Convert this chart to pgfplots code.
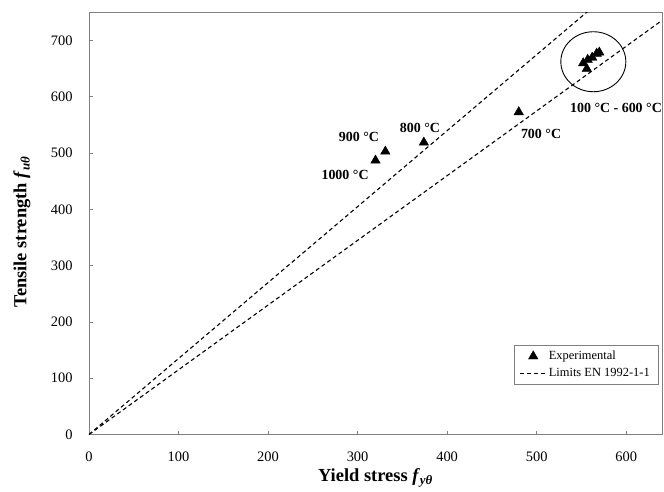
\documentclass[border=0pt]{standalone}
\usepackage{fontspec}
\setmainfont{Liberation Serif}
\usepackage{pgfplots}
\pgfplotsset{compat=1.18}
\begin{document}
\begin{tikzpicture}
\begin{axis}[
  scale only axis, width=573bp, height=422bp,
  xmin=0, xmax=640, ymin=0, ymax=750,
  xtick={0,100,...,600}, ytick={0,100,...,700},
  axis line style={draw=black!50, line width=0.8bp},
  tick align=inside, xtick pos=bottom, ytick pos=left,
  major tick length=4bp,
  tick style={black!50, line width=0.8bp},
  /pgf/number format/assume math mode=true,
  ticklabel style={font=\fontsize{14.5}{17}\selectfont},
  xticklabel style={yshift=-14bp},
  yticklabel style={xshift=-13bp},
  xlabel={\textbf{Yield stress \textit{f}\textsubscript{\textit{yθ}}}},
  ylabel={\textbf{Tensile strength \textit{f}\textsubscript{\textit{uθ}}}},
  label style={font=\fontsize{18.5}{22}\selectfont},
  xlabel style={at={(axis description cs:0.5,-0.102)}, anchor=center},
  ylabel style={at={(axis description cs:-0.117,0.48)}, anchor=center},
  legend style={at={(0.993,0.212)}, anchor=north east, draw=black!50,
    font=\fontsize{12.5}{15}\selectfont, row sep=3bp, inner xsep=6bp, inner ysep=4bp},
  legend cell align=left,
  clip=true,
]
\addplot[only marks, mark=triangle*, mark size=5.5bp, black,
  legend image code/.code={\draw[mark repeat=2,mark phase=2] plot coordinates {(0bp,0bp) (13bp,0bp) (26bp,0bp)};}]
  coordinates {
  (320,487) (331,503) (374,519) (480,573)
  (552,660) (556,650) (557,666) (562,670) (567,677) (570,679)
};
\addlegendentry{Experimental}
\addplot[black, line width=1.1bp, dash pattern=on 4bp off 3bp,
  legend image code/.code={\draw[black, line width=1.1bp, dash pattern=on 4bp off 3bp] (0bp,0bp) -- (26bp,0bp);}]
  coordinates {(0,0) (640,864)};
\addlegendentry{Limits EN 1992-1-1}
\addplot[black, line width=1.1bp, dash pattern=on 4bp off 3bp, forget plot] coordinates {(0,0) (640,736)};
\draw[black, line width=0.9bp] (axis cs:563.3,662.5) ellipse [x radius=32.5bp, y radius=30bp];
\begin{scope}[font=\bfseries\fontsize{14}{16}\selectfont]
\node at (axis cs:286,461) {1000 °C};
\node at (axis cs:301.6,529) {900 °C};
\node at (axis cs:369.7,544.5) {800 °C};
\node at (axis cs:504.9,533.7) {700 °C};
\node at (axis cs:588.6,580) {100 °C - 600 °C};
\end{scope}
\end{axis}
\pgfresetboundingbox
\path[use as bounding box] (-89bp,-57.5bp) rectangle (575bp,434.5bp);
\end{tikzpicture}
\end{document}
